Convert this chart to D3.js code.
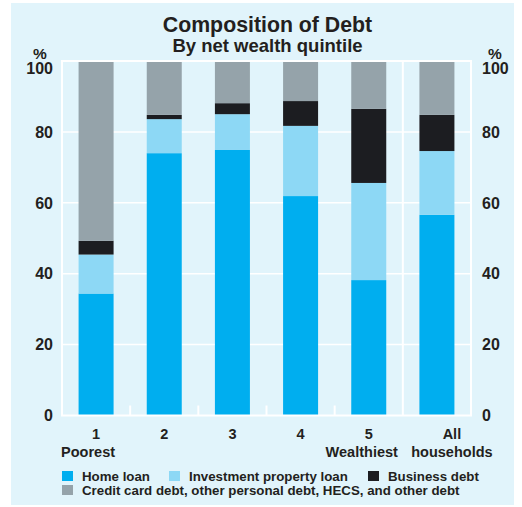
<!DOCTYPE html>
<html><head><meta charset="utf-8">
<script src="https://cdn.jsdelivr.net/npm/d3@7"></script>
<style>body{margin:0;background:#fff;} text{font-family:"Liberation Sans",Arial,sans-serif;font-weight:bold;fill:#231f20;}</style>
</head><body><svg id="c" width="522" height="507"></svg>
<script>
const categories = ["1","2","3","4","5","All"];
const categorySub = ["Poorest","","","","Wealthiest","households"];
const seriesNames = ["Home loan","Investment property loan","Business debt","Credit card debt, other personal debt, HECS, and other debt"];
const homeLoan   = [34.4, 74.0, 74.9, 61.9, 38.2, 56.6];
const investment = [11.0,  9.6, 10.1, 19.8, 27.4, 18.0];
const business   = [ 3.9,  1.2,  3.1,  7.0, 20.9, 10.2];
const other      = [50.7, 15.2, 11.9, 11.3, 13.5, 15.2];
const yTicks = [0,20,40,60,80,100];
const colors = ["#00aeef","#8dd8f5","#1c1d21","#95a3aa"];

const svg = d3.select("#c");
svg.append("rect").attr("x",11).attr("y",3).attr("width",503).attr("height",502).attr("fill","#e1f4fb");

const L=62,R=471,T=61,B=415.5;
const x = d3.scaleBand().domain(categories).range([L,R]).paddingInner(0).paddingOuter(0);
const y = d3.scaleLinear().domain([0,100]).range([B,T]);

// gridlines
svg.append("g").selectAll("line").data(yTicks.slice(1,-1)).join("line")
  .attr("x1",L).attr("x2",R).attr("y1",d=>y(d)).attr("y2",d=>y(d))
  .attr("stroke","#fff").attr("stroke-width",1.5);

// stacked bars
const data = categories.map((c,i)=>({cat:c, s0:homeLoan[i], s1:investment[i], s2:business[i], s3:other[i]}));
const stack = d3.stack().keys(["s0","s1","s2","s3"])(data);
const bw = 35;
svg.append("g").selectAll("g").data(stack).join("g").attr("fill",(d,i)=>colors[i])
  .selectAll("rect").data(d=>d).join("rect")
  .attr("x",d=>x(d.data.cat)+x.bandwidth()/2-bw/2).attr("width",bw)
  .attr("y",d=>y(Math.min(100,d[1]))).attr("height",d=>y(d[0])-y(Math.min(100,d[1])));

// frame
svg.append("rect").attr("x",L).attr("y",T).attr("width",R-L).attr("height",B-T)
  .attr("fill","none").attr("stroke","#fff").attr("stroke-width",2);
// separator before "All"
svg.append("line").attr("x1",x("All")).attr("x2",x("All")).attr("y1",T).attr("y2",B)
  .attr("stroke","#fff").attr("stroke-width",2);
// small ticks between quintiles
svg.append("g").selectAll("line").data(categories.slice(1,5)).join("line")
  .attr("x1",d=>x(d)).attr("x2",d=>x(d)).attr("y1",B).attr("y2",B-10)
  .attr("stroke","#fff").attr("stroke-width",2);

// y labels
const fs=16;
svg.append("g").selectAll("text").data(yTicks).join("text")
  .attr("x",53).attr("y",d=>y(d)+(d===100?7.5:0)).attr("dy","0.36em").attr("text-anchor","end")
  .attr("font-size",fs).text(d=>d);
svg.append("g").selectAll("text").data(yTicks).join("text")
  .attr("x",482).attr("y",d=>y(d)+(d===100?7.5:0)).attr("dy","0.36em").attr("text-anchor","start")
  .attr("font-size",fs).text(d=>d);
svg.append("text").attr("x",40).attr("y",58.5).attr("text-anchor","middle").attr("font-size",15.5).text("%");
svg.append("text").attr("x",495).attr("y",58.5).attr("text-anchor","middle").attr("font-size",15.5).text("%");

// x labels
const cfs=14.5;
const subShift=[-8,0,0,0,-7,15];
svg.append("g").selectAll("text").data(categories).join("text")
  .attr("x",(d,i)=>x(d)+x.bandwidth()/2+(i===5?15:0)).attr("y",438.5).attr("text-anchor","middle")
  .attr("font-size",cfs).text(d=>d);
svg.append("g").selectAll("text").data(categorySub).join("text")
  .attr("x",(d,i)=>x(categories[i])+x.bandwidth()/2+subShift[i]).attr("y",456.7).attr("text-anchor","middle")
  .attr("font-size",cfs).text(d=>d);

// title
svg.append("text").attr("x",267.5).attr("y",31.8).attr("text-anchor","middle").attr("font-size",21.3).text("Composition of Debt");
svg.append("text").attr("x",267.5).attr("y",52).attr("text-anchor","middle").attr("font-size",18.5).text("By net wealth quintile");

// legend
const leg=[{i:0,x:62,y:471},{i:1,x:169,y:471},{i:2,x:368,y:471},{i:3,x:62,y:485}];
const lg=svg.append("g").selectAll("g").data(leg).join("g");
lg.append("rect").attr("x",d=>d.x).attr("y",d=>d.y).attr("width",11).attr("height",10).attr("fill",d=>colors[d.i]);
lg.append("text").attr("x",d=>d.x+20).attr("y",d=>d.y+9.5).attr("font-size",13.3).text(d=>seriesNames[d.i]);
</script></body></html>
